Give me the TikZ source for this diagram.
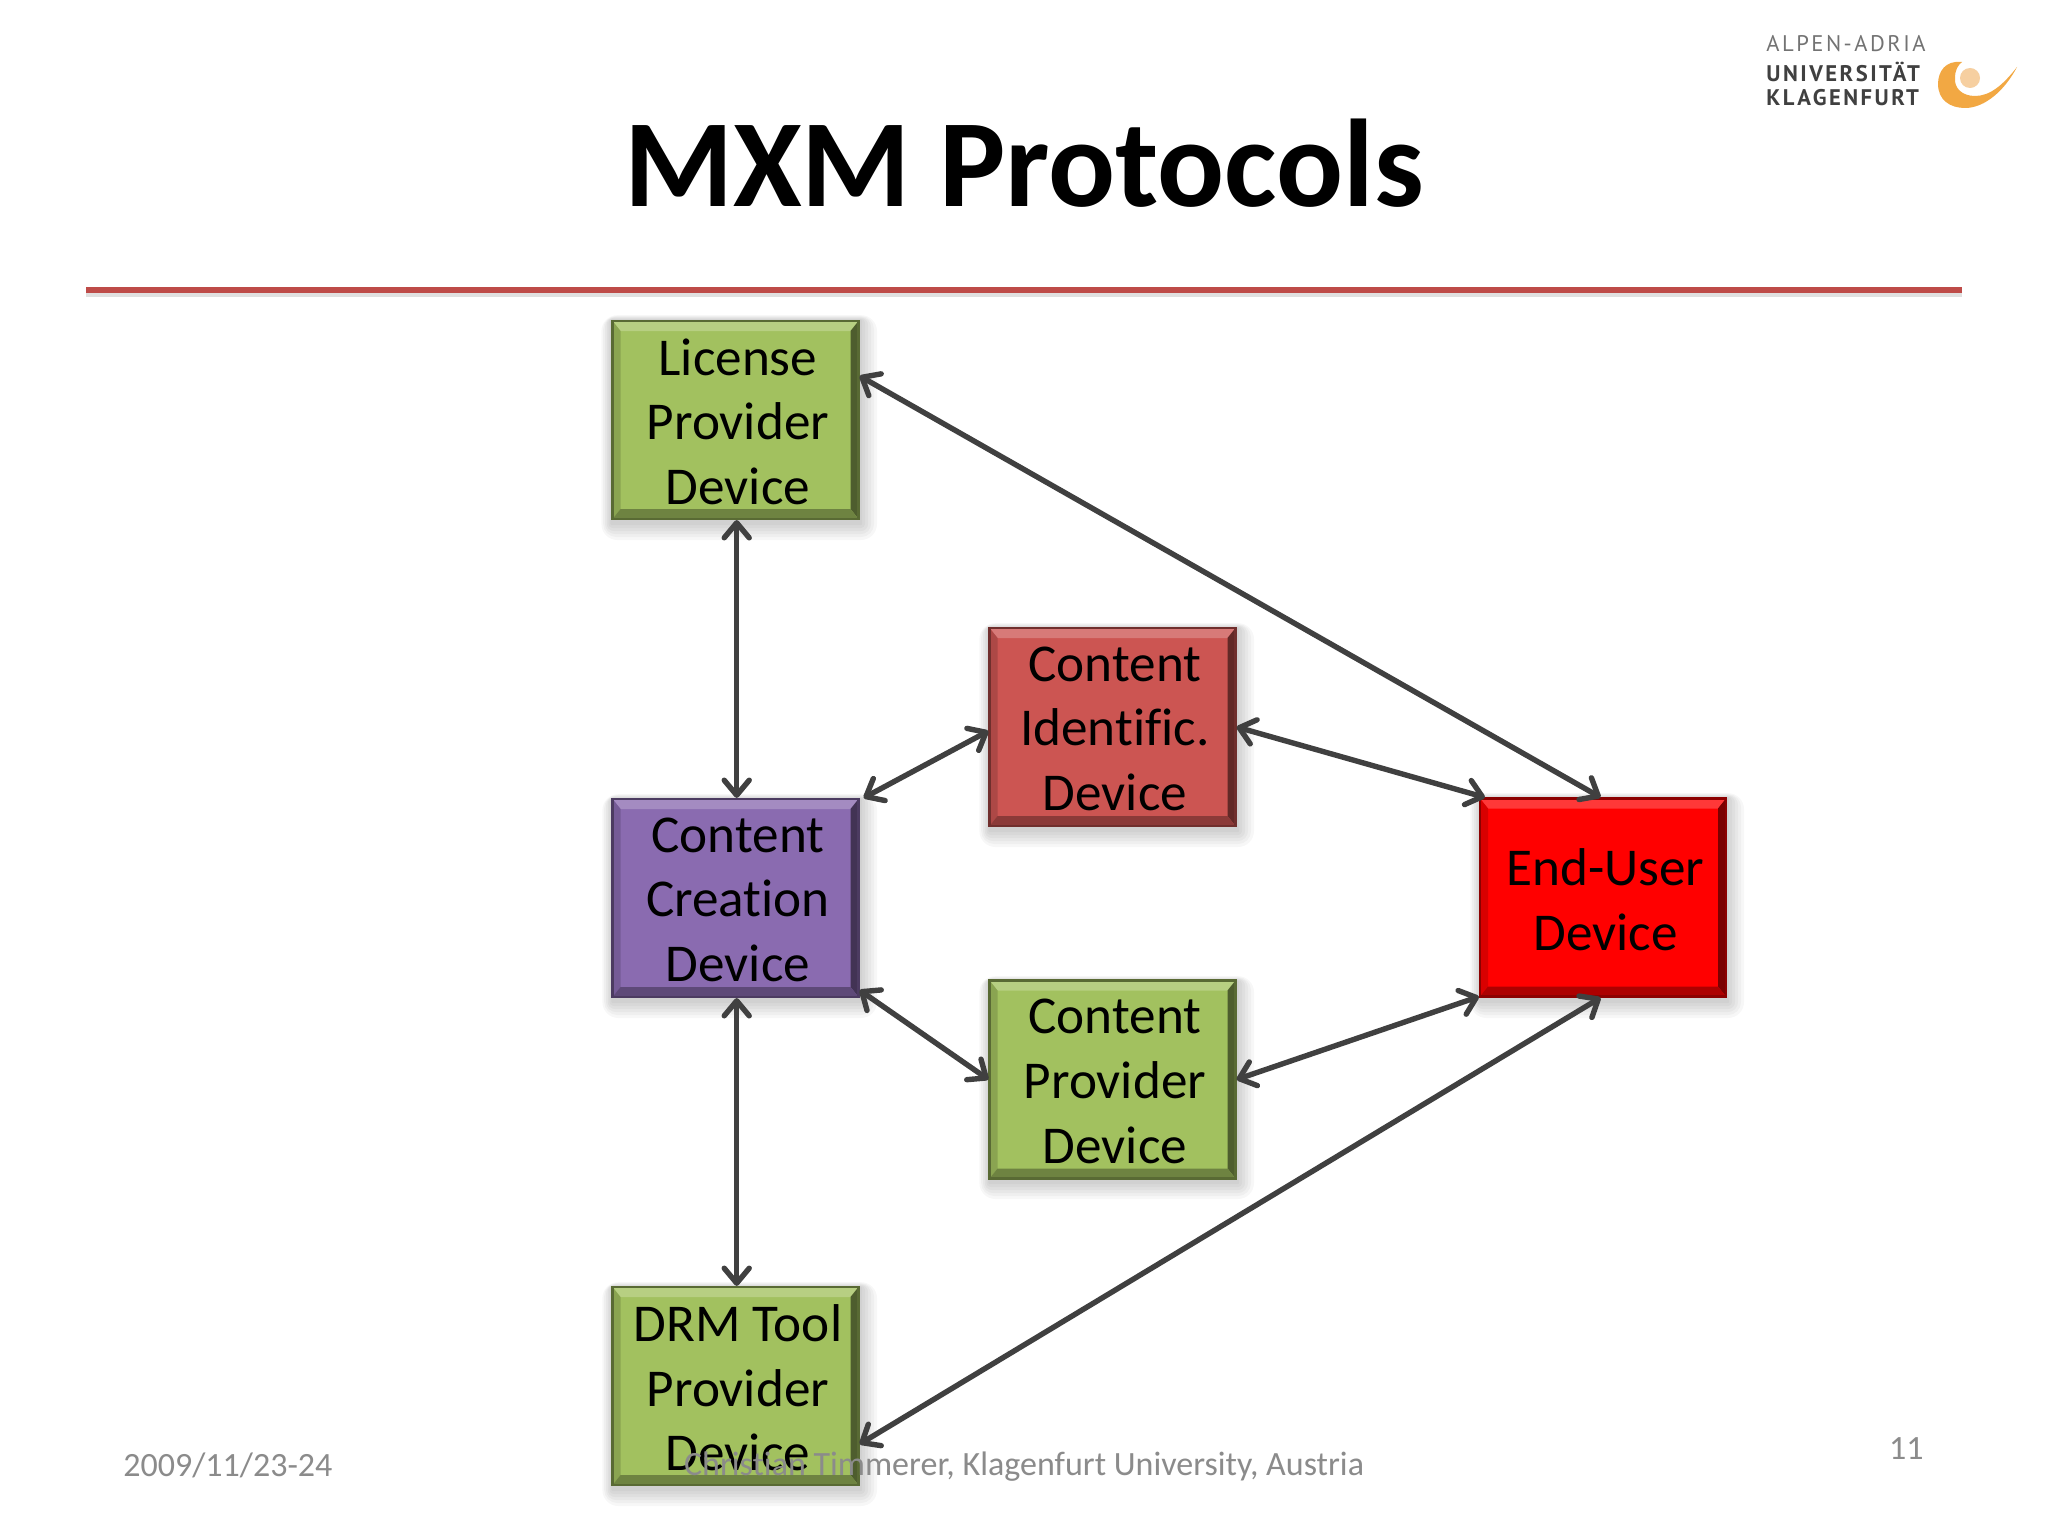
\documentclass[tikz,border=0pt]{standalone}
\usepackage{fontspec}
\setmainfont{Carlito}[Ligatures=NoCommon]
\newfontfamily\logofont[LetterSpace=11]{PT Sans}
\usetikzlibrary{arrows.meta,calc}
\definecolor{ink}{HTML}{404040}
\definecolor{foot}{HTML}{8B8B8B}
\definecolor{rule}{HTML}{BE4B48}
\definecolor{greenface}{HTML}{A2C15F}
\definecolor{purpleface}{HTML}{8A6BB0}
\definecolor{brickface}{HTML}{CC5552}
\definecolor{redface}{HTML}{FF0000}
\definecolor{swoosh}{HTML}{F2A843}
\definecolor{swooshpale}{HTML}{F6CFA0}
\newcommand{\softshadow}[4]{%
  \foreach \g in {16,13,10,7,4,1}{%
    \fill[black,opacity=.03,rounded corners=\g*0.5pt]
      (#1-\g*0.6,#2-\g*0.3) rectangle (#3+\g+2,#4+\g+5);}}
\tikzset{
  x=0.5pt,y=-0.5pt,
  devbox/.style={
    draw=#1!55!black,line width=1.1pt,fill=#1,
    minimum width=123pt,minimum height=99pt,inner sep=0pt,
    path picture={
      \coordinate (onw) at (path picture bounding box.north west);
      \coordinate (one) at (path picture bounding box.north east);
      \coordinate (osw) at (path picture bounding box.south west);
      \coordinate (ose) at (path picture bounding box.south east);
      \coordinate (inw) at ($(onw)+(4pt,-5pt)$);
      \coordinate (ine) at ($(one)+(-4pt,-5pt)$);
      \coordinate (isw) at ($(osw)+(4pt,5pt)$);
      \coordinate (ise) at ($(ose)+(-4pt,5pt)$);
      \fill[#1!78!white] (onw)--(one)--(ine)--(inw)--cycle;
      \fill[#1!85!black] (onw)--(inw)--(isw)--(osw)--cycle;
      \fill[#1!48!black] (one)--(ine)--(ise)--(ose)--cycle;
      \fill[#1!68!black] (osw)--(isw)--(ise)--(ose)--cycle;
    }},
  devlabel/.style={align=center,inner sep=0pt,font=\fontsize{26.6}{32.4}\selectfont,
    xshift=1.2pt,yshift=-0.9pt},
  link/.style={ink,line width=2.7pt,line cap=round,
    {Straight Barb[length=7.5pt,width=12.5pt,line width=2.7pt,round]}-{Straight Barb[length=7.5pt,width=12.5pt,line width=2.7pt,round]}},
  footer/.style={foot,font=\fontsize{17}{20}\selectfont,inner sep=0pt},
  logotext/.style={anchor=west,inner sep=0pt,text=black!75}
}
\begin{document}
\begin{tikzpicture}
\useasboundingbox (0,0) rectangle (2048,1536);
\fill[white] (0,0) rectangle (2048,1536);
% logo
\node[logotext,font=\logofont\fontsize{11.3}{12}\selectfont,text=black!55] (logoa) at (1766,44) {ALPEN-ADRIA};
\node[logotext,font=\logofont\bfseries\fontsize{11.3}{12}\selectfont] (logob) at (1766,72) {UNIVERSITÄT};
\node[logotext,font=\logofont\bfseries\fontsize{11.3}{12}\selectfont] (logoc) at (1766,98) {KLAGENFURT};
\fill[swoosh] (1962,62) .. controls (1945,60) and (1938,72) .. (1938,84)
  .. controls (1938,100) and (1950,108) .. (1965,108)
  .. controls (1985,108) and (2005,90) .. (2017,67)
  .. controls (2003,85) and (1990,96) .. (1975,96)
  .. controls (1962,96) and (1954,88) .. (1955,78)
  .. controls (1955,70) and (1958,65) .. (1962,62) -- cycle;
\fill[swooshpale] (1970,78) circle (10);
% title and rule
\node[font=\fontsize{62.4}{70}\selectfont\bfseries,inner sep=0pt] (title) at (1024,163) {MXM Protocols};
\fill[black,opacity=.12] (86,288) rectangle (1962,297);
\draw[rule,line width=2.6pt] (86,290) coordinate (rulea) -- (1962,290) coordinate (ruleb);
% shadows
\softshadow{611}{320}{859}{519}
\softshadow{612}{799}{859}{997}
\softshadow{612}{1287}{859}{1485}
\softshadow{989}{628}{1236}{826}
\softshadow{989}{981}{1236}{1178}
\softshadow{1480}{798}{1726}{997}
% boxes
\node[devbox=greenface,label={[devlabel]center:{License\\Provider\\Device}}] (lic) at (735.5,420) {};
\node[devbox=purpleface,label={[devlabel]center:{Content\\Creation\\Device}}] (cre) at (735.5,898) {};
\node[devbox=greenface,label={[devlabel]center:{DRM Tool\\Provider\\Device}}] (drm) at (735.5,1386) {};
\node[devbox=brickface,label={[devlabel]center:{Content\\Identific.\\Device}}] (cid) at (1112.5,727) {};
\node[devbox=greenface,label={[devlabel]center:{Content\\Provider\\Device}}] (cpd) at (1112.5,1079.5) {};
\node[devbox=redface,label={[devlabel]center:{End-User\\Device}}] (eud) at (1603,897.5) {};
% connectors
\draw[link] ($(lic.north east)!.28!(lic.south east)$) -- ($(eud.north)+(-1.2pt,0)$);
\draw[link] ($(lic.south)+(.6pt,0)$) -- ($(cre.north)+(.6pt,0)$);
\draw[link] ($(cre.north east)+(2pt,0)$) -- ($(cid.north west)!.52!(cid.south west)$);
\draw[link] ($(cid.north east)!.5!(cid.south east)$) -- ($(eud.north west)+(3pt,0)$);
\draw[link] ($(cre.north east)!.96!(cre.south east)$) -- ($(cpd.north west)!.5!(cpd.south west)$);
\draw[link] ($(cpd.north east)!.5!(cpd.south east)$) -- ($(eud.south west)+(0,0.5pt)$);
\draw[link] ($(cre.south)+(.6pt,0)$) -- ($(drm.north)+(.6pt,0)$);
\draw[link] ($(drm.north east)!.79!(drm.south east)$) -- ($(eud.south)+(-1.2pt,0)$);
% footer
\node[footer,anchor=west] (fdate) at (123,1465) {2009/11/23-24};
\node[footer] (fname) at (1024,1467) {Christian Timmerer, Klagenfurt University, Austria};
\node[footer,anchor=east] (fnum) at (1924,1449) {11};
\end{tikzpicture}
\end{document}
